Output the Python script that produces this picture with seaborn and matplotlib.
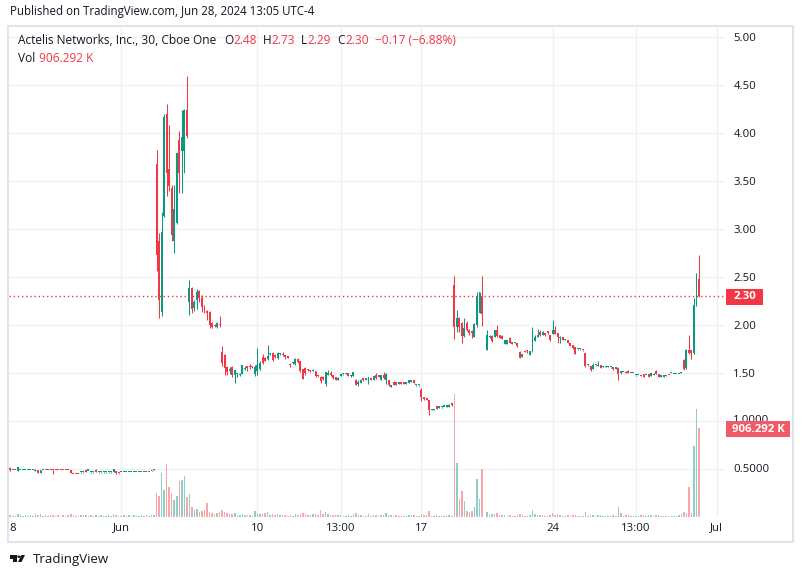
import matplotlib
matplotlib.use("Agg")
from matplotlib import pyplot as plt
from matplotlib.patches import Rectangle, Polygon, Circle
import numpy as np
import pandas as pd
import seaborn as sns

# 30 min bars: (open, high, low, close, volume in millions)
may_bars = [
    (0.53, 0.53, 0.48, 0.49, 0.03), (0.51, 0.52, 0.48, 0.49, 0.02), (0.49, 0.49, 0.49, 0.49, 0.01),
    (0.49, 0.49, 0.488, 0.488, 0.01), (0.48, 0.525, 0.48, 0.525, 0.03), (0.489, 0.49, 0.488, 0.49, 0.02),
    (0.489, 0.49, 0.488, 0.49, 0.01), (0.489, 0.49, 0.488, 0.49, 0.02), (0.489, 0.49, 0.488, 0.49, 0.01),
    (0.489, 0.49, 0.488, 0.49, 0.02), (0.489, 0.49, 0.488, 0.49, 0.01), (0.48, 0.50, 0.475, 0.487, 0.03),
    (0.49, 0.49, 0.455, 0.458, 0.02), (0.458, 0.49, 0.455, 0.487, 0.03), (0.489, 0.49, 0.488, 0.49, 0.01),
    (0.49, 0.491, 0.488, 0.489, 0.02), (0.489, 0.49, 0.488, 0.49, 0.01), (0.49, 0.491, 0.488, 0.489, 0.02),
    (0.49, 0.491, 0.445, 0.487, 0.02), (0.49, 0.491, 0.488, 0.489, 0.01), (0.49, 0.491, 0.488, 0.489, 0.02),
    (0.49, 0.491, 0.488, 0.489, 0.01), (0.49, 0.491, 0.488, 0.489, 0.02), (0.49, 0.491, 0.488, 0.489, 0.01),
    (0.49, 0.491, 0.488, 0.489, 0.02), (0.487, 0.488, 0.458, 0.46, 0.03), (0.449, 0.45, 0.445, 0.446, 0.02),
    (0.449, 0.45, 0.445, 0.446, 0.01), (0.449, 0.45, 0.445, 0.446, 0.01), (0.464, 0.466, 0.463, 0.465, 0.02),
    (0.464, 0.466, 0.463, 0.465, 0.02), (0.487, 0.49, 0.466, 0.472, 0.02), (0.482, 0.484, 0.482, 0.483, 0.01),
    (0.464, 0.466, 0.463, 0.465, 0.02), (0.464, 0.466, 0.463, 0.465, 0.01), (0.488, 0.497, 0.465, 0.472, 0.02),
    (0.464, 0.466, 0.463, 0.465, 0.01), (0.464, 0.466, 0.463, 0.465, 0.02), (0.464, 0.466, 0.463, 0.465, 0.01),
    (0.464, 0.466, 0.463, 0.465, 0.01), (0.464, 0.466, 0.463, 0.465, 0.02), (0.464, 0.466, 0.463, 0.465, 0.01),
    (0.472, 0.50, 0.472, 0.497, 0.03), (0.48, 0.482, 0.45, 0.458, 0.02), (0.456, 0.457, 0.453, 0.455, 0.01),
]
early_jun_bars = [
    (0.464, 0.467, 0.464, 0.466, 0.01), (0.465, 0.467, 0.464, 0.466, 0.02), (0.468, 0.472, 0.467, 0.471, 0.01),
    (0.469, 0.473, 0.468, 0.472, 0.02), (0.469, 0.473, 0.468, 0.472, 0.01), (0.465, 0.467, 0.464, 0.466, 0.02),
    (0.465, 0.467, 0.464, 0.466, 0.01), (0.465, 0.467, 0.464, 0.466, 0.01), (0.465, 0.467, 0.464, 0.466, 0.02),
    (0.466, 0.467, 0.464, 0.465, 0.01), (0.465, 0.467, 0.464, 0.466, 0.02), (0.466, 0.468, 0.464, 0.465, 0.01),
    (0.475, 0.49, 0.474, 0.488, 0.02), (0.488, 0.50, 0.486, 0.495, 0.02),
]
spike_bars = [
    (3.68, 3.82, 2.56, 2.73, 0.24), (2.87, 2.96, 2.07, 2.26, 0.21), (2.14, 3.18, 2.09, 2.97, 0.45),
    (3.14, 4.20, 3.12, 4.17, 0.28), (4.20, 4.30, 3.34, 3.58, 0.54), (3.62, 4.08, 3.40, 3.45, 0.31),
    (3.43, 3.46, 2.87, 2.94, 0.25), (2.88, 3.46, 2.75, 3.21, 0.17), (3.06, 3.79, 3.05, 3.79, 0.21),
    (3.93, 4.02, 3.37, 3.58, 0.37), (3.81, 4.24, 3.37, 3.96, 0.38), (3.81, 4.25, 3.58, 4.24, 0.42),
    (4.24, 4.59, 3.95, 3.97, 0.20),
]
jun6_bars = [
    (2.24, 2.47, 2.10, 2.39, 0.23), (2.39, 2.40, 2.12, 2.17, 0.10), (2.18, 2.26, 2.15, 2.24, 0.07),
    (2.26, 2.38, 2.17, 2.34, 0.08), (2.35, 2.36, 2.24, 2.28, 0.05), (2.28, 2.31, 2.14, 2.19, 0.06),
    (2.20, 2.21, 2.12, 2.14, 0.07), (2.15, 2.16, 2.05, 2.12, 0.14), (2.14, 2.15, 1.97, 2.00, 0.05),
    (2.02, 2.03, 1.97, 1.98, 0.04), (2.00, 2.01, 1.98, 1.99, 0.03), (1.98, 2.03, 1.97, 2.02, 0.04),
    (2.01, 2.09, 1.98, 2.00, 0.05),
]
jun7_bars = [
    (1.72, 1.78, 1.57, 1.60, 0.07), (1.69, 1.70, 1.48, 1.55, 0.05), (1.56, 1.57, 1.48, 1.51, 0.04),
    (1.52, 1.56, 1.49, 1.54, 0.03), (1.56, 1.57, 1.46, 1.48, 0.03), (1.48, 1.53, 1.40, 1.53, 0.04),
    (1.49, 1.51, 1.46, 1.50, 0.02), (1.48, 1.50, 1.47, 1.49, 0.02), (1.49, 1.58, 1.49, 1.58, 0.03),
    (1.54, 1.57, 1.53, 1.55, 0.02), (1.57, 1.57, 1.52, 1.55, 0.02), (1.57, 1.59, 1.54, 1.56, 0.02),
    (1.565, 1.57, 1.55, 1.56, 0.01), (1.49, 1.58, 1.47, 1.56, 0.06),
]
jun10_14_bars = [
    (1.52, 1.76, 1.48, 1.58, 0.04), (1.54, 1.62, 1.53, 1.60, 0.03), (1.67, 1.70, 1.59, 1.60, 0.03),
    (1.66, 1.67, 1.62, 1.63, 0.04), (1.65, 1.79, 1.64, 1.68, 0.05), (1.70, 1.71, 1.69, 1.705, 0.02),
    (1.71, 1.72, 1.63, 1.64, 0.03), (1.69, 1.70, 1.66, 1.67, 0.02), (1.66, 1.72, 1.65, 1.71, 0.03),
    (1.70, 1.71, 1.69, 1.71, 0.02), (1.70, 1.72, 1.68, 1.69, 0.02), (1.675, 1.68, 1.65, 1.67, 0.02),
    (1.665, 1.67, 1.655, 1.66, 0.01), (1.585, 1.60, 1.56, 1.58, 0.02), (1.60, 1.61, 1.59, 1.60, 0.01),
    (1.59, 1.66, 1.58, 1.65, 0.03), (1.65, 1.66, 1.60, 1.61, 0.02), (1.62, 1.63, 1.51, 1.52, 0.03),
    (1.54, 1.54, 1.44, 1.44, 0.04), (1.55, 1.56, 1.48, 1.50, 0.03), (1.535, 1.54, 1.52, 1.53, 0.02),
    (1.53, 1.53, 1.51, 1.52, 0.02), (1.52, 1.54, 1.52, 1.53, 0.03), (1.52, 1.52, 1.46, 1.47, 0.03),
    (1.47, 1.47, 1.46, 1.465, 0.02), (1.46, 1.47, 1.40, 1.42, 0.07), (1.46, 1.47, 1.43, 1.44, 0.03),
    (1.39, 1.51, 1.36, 1.51, 0.05), (1.48, 1.53, 1.48, 1.50, 0.03), (1.50, 1.52, 1.47, 1.48, 0.02),
    (1.48, 1.48, 1.44, 1.45, 0.02), (1.46, 1.46, 1.43, 1.43, 0.02), (1.43, 1.46, 1.43, 1.45, 0.02),
    (1.47, 1.49, 1.47, 1.49, 0.02), (1.485, 1.49, 1.48, 1.49, 0.01), (1.49, 1.50, 1.49, 1.495, 0.01),
    (1.50, 1.50, 1.47, 1.47, 0.02), (1.47, 1.48, 1.46, 1.48, 0.01), (1.47, 1.51, 1.47, 1.51, 0.03),
    (1.43, 1.44, 1.37, 1.38, 0.04), (1.39, 1.43, 1.36, 1.41, 0.02), (1.40, 1.44, 1.40, 1.43, 0.02),
    (1.44, 1.44, 1.42, 1.43, 0.01), (1.43, 1.44, 1.43, 1.44, 0.01), (1.39, 1.46, 1.39, 1.46, 0.03),
    (1.44, 1.44, 1.43, 1.43, 0.01), (1.43, 1.47, 1.43, 1.47, 0.02), (1.48, 1.50, 1.44, 1.45, 0.02),
    (1.48, 1.48, 1.46, 1.46, 0.01), (1.43, 1.48, 1.43, 1.48, 0.02), (1.48, 1.51, 1.44, 1.45, 0.02),
    (1.43, 1.50, 1.39, 1.49, 0.04), (1.43, 1.43, 1.36, 1.37, 0.02), (1.35, 1.38, 1.35, 1.38, 0.02),
    (1.41, 1.42, 1.38, 1.38, 0.01), (1.41, 1.41, 1.38, 1.38, 0.02), (1.39, 1.40, 1.39, 1.40, 0.01),
    (1.41, 1.41, 1.39, 1.39, 0.01), (1.40, 1.40, 1.39, 1.39, 0.01), (1.39, 1.40, 1.39, 1.395, 0.01),
    (1.40, 1.43, 1.40, 1.43, 0.02), (1.41, 1.43, 1.41, 1.43, 0.02), (1.43, 1.43, 1.40, 1.40, 0.02),
    (1.37, 1.38, 1.36, 1.375, 0.01), (1.37, 1.375, 1.365, 1.37, 0.01),
]
jun17_bars = [
    (1.32, 1.34, 1.21, 1.25, 0.03), (1.25, 1.25, 1.22, 1.23, 0.02), (1.24, 1.24, 1.22, 1.22, 0.02),
    (1.22, 1.22, 1.06, 1.11, 0.06), (1.11, 1.12, 1.11, 1.115, 0.01), (1.11, 1.12, 1.11, 1.115, 0.01),
    (1.16, 1.16, 1.13, 1.13, 0.02), (1.14, 1.15, 1.14, 1.145, 0.01), (1.145, 1.15, 1.14, 1.15, 0.01),
    (1.15, 1.15, 1.145, 1.15, 0.01), (1.15, 1.155, 1.145, 1.15, 0.02), (1.15, 1.18, 1.15, 1.17, 0.02),
    (1.18, 1.19, 1.16, 1.17, 0.01),
]
jun18_bars = [
    (2.42, 2.51, 1.85, 1.98, 1.26), (1.98, 2.16, 1.93, 2.07, 0.55), (2.07, 2.08, 1.93, 1.98, 0.18),
    (2.02, 2.03, 1.81, 1.89, 0.27), (1.89, 2.07, 1.87, 1.97, 0.16), (2.02, 2.04, 1.94, 1.95, 0.06),
    (1.95, 1.96, 1.90, 1.92, 0.05), (1.93, 1.95, 1.86, 1.92, 0.06), (1.88, 2.02, 1.87, 2.01, 0.10),
    (2.00, 2.34, 1.98, 2.30, 0.39), (2.13, 2.34, 2.12, 2.34, 0.18), (2.30, 2.51, 1.99, 2.11, 0.49),
    (None, None, None, None, 0.0),
]
jun20_bars = [
    (1.74, 1.95, 1.74, 1.90, 0.05), (1.87, 1.90, 1.86, 1.89, 0.02), (1.89, 1.90, 1.82, 1.83, 0.03),
    (1.88, 1.95, 1.88, 1.95, 0.03), (1.95, 2.00, 1.88, 1.89, 0.04), (1.90, 1.90, 1.86, 1.86, 0.02),
    (1.89, 1.90, 1.85, 1.85, 0.02), (1.80, 1.84, 1.80, 1.84, 0.02), (1.80, 1.84, 1.80, 1.84, 0.01),
    (1.86, 1.88, 1.81, 1.81, 0.02), (1.82, 1.82, 1.80, 1.80, 0.01), (1.81, 1.82, 1.81, 1.815, 0.01),
    (1.81, 1.81, 1.77, 1.78, 0.02),
]
jun21_bars = [
    (1.72, 1.73, 1.66, 1.66, 0.03), (1.67, 1.70, 1.67, 1.70, 0.02), (1.73, 1.73, 1.72, 1.72, 0.01),
    (1.73, 1.74, 1.71, 1.725, 0.01), (1.69, 1.73, 1.69, 1.73, 0.02), (1.72, 1.98, 1.72, 1.83, 0.07),
    (1.83, 1.90, 1.83, 1.87, 0.03), (1.87, 1.96, 1.87, 1.90, 0.02), (1.93, 1.95, 1.89, 1.90, 0.02),
    (1.90, 1.94, 1.90, 1.93, 0.02), (1.92, 1.92, 1.89, 1.90, 0.01), (1.925, 1.93, 1.91, 1.92, 0.01),
    (1.90, 1.90, 1.83, 1.84, 0.02),
]
jun24_bars = [
    (1.91, 2.05, 1.91, 1.95, 0.04), (1.95, 1.99, 1.91, 1.91, 0.02), (1.92, 1.92, 1.81, 1.87, 0.03),
    (1.86, 1.89, 1.81, 1.865, 0.02), (1.87, 1.88, 1.84, 1.84, 0.01), (1.84, 1.85, 1.84, 1.845, 0.01),
    (1.84, 1.84, 1.81, 1.81, 0.02), (1.81, 1.81, 1.78, 1.78, 0.01), (1.79, 1.79, 1.75, 1.76, 0.02),
    (1.77, 1.77, 1.70, 1.70, 0.02), (1.745, 1.75, 1.74, 1.75, 0.01), (1.745, 1.75, 1.74, 1.75, 0.01),
    (1.74, 1.74, 1.73, 1.735, 0.01),
]
jun25_bars = [
    (1.71, 1.71, 1.56, 1.57, 0.05), (1.58, 1.585, 1.575, 1.585, 0.01), (1.57, 1.575, 1.52, 1.53, 0.02),
    (1.54, 1.60, 1.54, 1.58, 0.02), (1.58, 1.585, 1.575, 1.585, 0.01), (1.575, 1.63, 1.57, 1.58, 0.02),
    (1.58, 1.585, 1.55, 1.55, 0.02), (1.56, 1.575, 1.56, 1.57, 0.01), (1.56, 1.575, 1.56, 1.57, 0.01),
    (1.565, 1.57, 1.56, 1.57, 0.01), (1.56, 1.565, 1.555, 1.56, 0.01), (1.55, 1.55, 1.53, 1.545, 0.02),
    (1.545, 1.55, 1.545, 1.55, 0.01),
]
jun26_bars = [
    (1.55, 1.56, 1.43, 1.49, 0.10), (1.50, 1.52, 1.49, 1.52, 0.04), (1.51, 1.515, 1.51, 1.515, 0.01),
    (1.515, 1.52, 1.50, 1.50, 0.02), (1.52, 1.53, 1.50, 1.50, 0.02), (1.50, 1.505, 1.50, 1.505, 0.01),
    (1.50, 1.505, 1.50, 1.503, 0.01), (1.475, 1.48, 1.47, 1.48, 0.01), (1.478, 1.48, 1.478, 1.479, 0.01),
    (1.48, 1.48, 1.47, 1.47, 0.02), (1.49, 1.49, 1.46, 1.46, 0.02), (1.478, 1.48, 1.478, 1.48, 0.01),
    (1.49, 1.49, 1.46, 1.46, 0.02),
]
jun27_bars = [
    (1.47, 1.50, 1.47, 1.50, 0.02), (1.48, 1.50, 1.48, 1.485, 0.01), (1.52, 1.53, 1.49, 1.49, 0.02),
    (1.49, 1.49, 1.455, 1.455, 0.02), (1.46, 1.48, 1.46, 1.48, 0.01), (1.455, 1.48, 1.455, 1.48, 0.01),
    (1.48, 1.48, 1.47, 1.47, 0.01), (1.48, 1.48, 1.478, 1.479, 0.01), (1.495, 1.50, 1.495, 1.497, 0.01),
    (1.49, 1.49, 1.488, 1.49, 0.01), (1.49, 1.49, 1.488, 1.49, 0.01), (1.49, 1.49, 1.488, 1.49, 0.02),
    (1.497, 1.515, 1.495, 1.514, 0.03),
]
jun28_bars = [
    (1.64, 1.65, 1.53, 1.54, 0.05), (1.55, 1.75, 1.54, 1.74, 0.04), (1.74, 1.90, 1.70, 1.71, 0.31),
    (1.74, 1.74, 1.65, 1.71, 0.04), (1.71, 2.28, 1.70, 2.21, 0.72), (2.21, 2.54, 2.20, 2.47, 1.10),
    (2.48, 2.73, 2.29, 2.30, 0.906292),
]

tick_pos = [2.1, 45, 99, 132, 164, 216, 249, 281]
tick_labels = ["8", "Jun", "10", "13:00", "17", "24", "13:00", "Jul"]
price_ticks = [1.5, 2.0, 2.5, 3.0, 3.5, 4.0, 4.5, 5.0]
grid_levels = [0.5, 1.0, 1.5, 2.0, 2.5, 3.0, 3.5, 4.0, 4.5, 5.0]
vol_ticks = [0.5, 1.0]

UP = "#089981"
DOWN = "#F23645"
UP_VOL = "#8ED0C5"
DOWN_VOL = "#F7A6AA"
TXT = "#131722"
GRID = "#F0F1F4"

bars = (may_bars + early_jun_bars + spike_bars + jun6_bars + jun7_bars + jun10_14_bars
        + jun17_bars + jun18_bars + jun20_bars + jun21_bars + jun24_bars + jun25_bars
        + jun26_bars + jun27_bars + jun28_bars)
df = pd.DataFrame(bars, columns=["open", "high", "low", "close", "volume"]).astype(float)
df["idx"] = np.arange(len(df))
df["up"] = df["close"] >= df["open"]

sns.set_style("white")
plt.rcParams['font.family'] = ['Open Sans', 'DejaVu Sans']

W, H = 804, 578
fig = plt.figure(figsize=(W / 100, H / 100), dpi=100)


def fx(px):
    return px / W


def fy(py):
    return 1 - py / H


ax = fig.add_axes([fx(9), fy(517), (725 - 9) / W, (517 - 27) / H])
ax2 = ax.twinx()

# volume bars (own scale, at the bottom)
sns.barplot(data=df, x="idx", y="volume", hue="up", palette={True: UP_VOL, False: DOWN_VOL},
            native_scale=True, dodge=False, width=0.6, errorbar=None, legend=False,
            saturation=1, linewidth=0, ax=ax2)

# grid
for g in grid_levels:
    ax.axhline(g, color=GRID, lw=1, zorder=0)
for t in tick_pos[1:]:
    ax.axvline(t, color=GRID, lw=1, zorder=0)

# candles
colors = np.where(df["up"], UP, DOWN)
ax.vlines(df["idx"], df["low"], df["high"], colors=colors, linewidth=0.75, zorder=2)
body_lo = np.minimum(df["open"], df["close"])
body_h = np.maximum((df["close"] - df["open"]).abs(), 0.013)
ax.bar(df["idx"], body_h, bottom=body_lo, width=0.78, color=colors, linewidth=0, zorder=3)

last = df.iloc[-1]
prev = df.iloc[-2]
ax.axhline(last["close"], color=DOWN, lw=1, linestyle=(0, (1, 2)), zorder=4)

ax.set_xlim(0.515, 284.3)
ax.set_ylim(0, 490 / 96)
ax2.set_ylim(0, 490 / 98)

for a in (ax, ax2):
    for s in a.spines.values():
        s.set_visible(False)
    a.set_xlabel("")
    a.set_ylabel("")

ax.yaxis.tick_right()
ax.set_yticks(price_ticks, [f"{p:.2f}" for p in price_ticks])
ax.set_xticks(tick_pos, tick_labels)
ax.tick_params(axis="both", length=0, labelsize=8.2, labelcolor=TXT)
ax.tick_params(axis="y", pad=6)
ax.tick_params(axis="x", pad=4)
ax2.set_yticks(vol_ticks, [f"{v:.4f}" for v in vol_ticks])
ax2.tick_params(axis="y", length=0, labelsize=8.2, labelcolor=TXT, pad=6)
ax2.tick_params(axis="x", labelbottom=False, length=0)

# frame around the chart pane
fig.add_artist(Rectangle((fx(8), fy(542)), (793 - 8) / W, (542 - 26) / H, transform=fig.transFigure,
                         fill=False, edgecolor="#E0E3EB", lw=1.5))

# last price and volume labels on the scale
fig.add_artist(Rectangle((fx(726), fy(304.5)), 37 / W, 16 / H, transform=fig.transFigure,
                         color=DOWN, lw=0))
fig.text(fx(744.5), fy(296.5), f"{last['close']:.2f}", color="white", fontsize=8.2,
         fontweight="bold", ha="center", va="center")
fig.add_artist(Rectangle((fx(726), fy(437)), 64 / W, 16 / H, transform=fig.transFigure,
                         color="#F15B67", lw=0))
fig.text(fx(758), fy(429), f"{last['volume'] * 1000:.3f} K", color="white", fontsize=8.2,
         fontweight="bold", ha="center", va="center")

# header
fig.text(fx(10), fy(12), "Published on TradingView.com, Jun 28, 2024 13:05 UTC-4",
         color=TXT, fontsize=8.3, va="center")

renderer = fig.canvas.get_renderer()


def put_pair(label, value, px, py, size=8.6):
    t = fig.text(fx(px), fy(py), label, color=TXT, fontsize=size, va="center")
    w = t.get_window_extent(renderer).width
    fig.text(fx(px + w + 0.5), fy(py), value, color=DOWN, fontsize=size, va="center")


chg = last["close"] - prev["close"]
pct = chg / prev["close"] * 100
neg = "\u2212" if chg < 0 else "+"
fig.text(fx(18), fy(41), "Actelis Networks, Inc., 30, Cboe One", color=TXT, fontsize=8.6, va="center")
put_pair("O", f"{last['open']:.2f}", 224, 41)
put_pair("H", f"{last['high']:.2f}", 262.5, 41)
put_pair("L", f"{last['low']:.2f}", 301, 41)
put_pair("C", f"{last['close']:.2f}", 337, 41)
fig.text(fx(375), fy(41), f"{neg}{abs(chg):.2f} ({neg}{abs(pct):.2f}%)", color=DOWN, fontsize=8.6,
         va="center")
put_pair("Vol", f" {last['volume'] * 1000:.3f} K", 18, 58)

# TradingView logo
fig.add_artist(Rectangle((fx(10), fy(558.5)), 7 / W, 3.5 / H, transform=fig.transFigure, color=TXT, lw=0))
fig.add_artist(Rectangle((fx(13.5), fy(562)), 3.5 / W, 7 / H, transform=fig.transFigure, color=TXT, lw=0))
fig.add_artist(Circle((fx(19), fy(556.7)), 1.7 / W, transform=fig.transFigure, color=TXT, lw=0))
fig.add_artist(Polygon([(fx(21.5), fy(555)), (fx(25), fy(555)), (fx(21.5), fy(562)), (fx(18), fy(562))],
                       closed=True, transform=fig.transFigure, color=TXT, lw=0))
fig.text(fx(33), fy(559.5), "TradingView", color=TXT, fontsize=9.5, va="center")

fig.savefig("out.png", dpi=100)
